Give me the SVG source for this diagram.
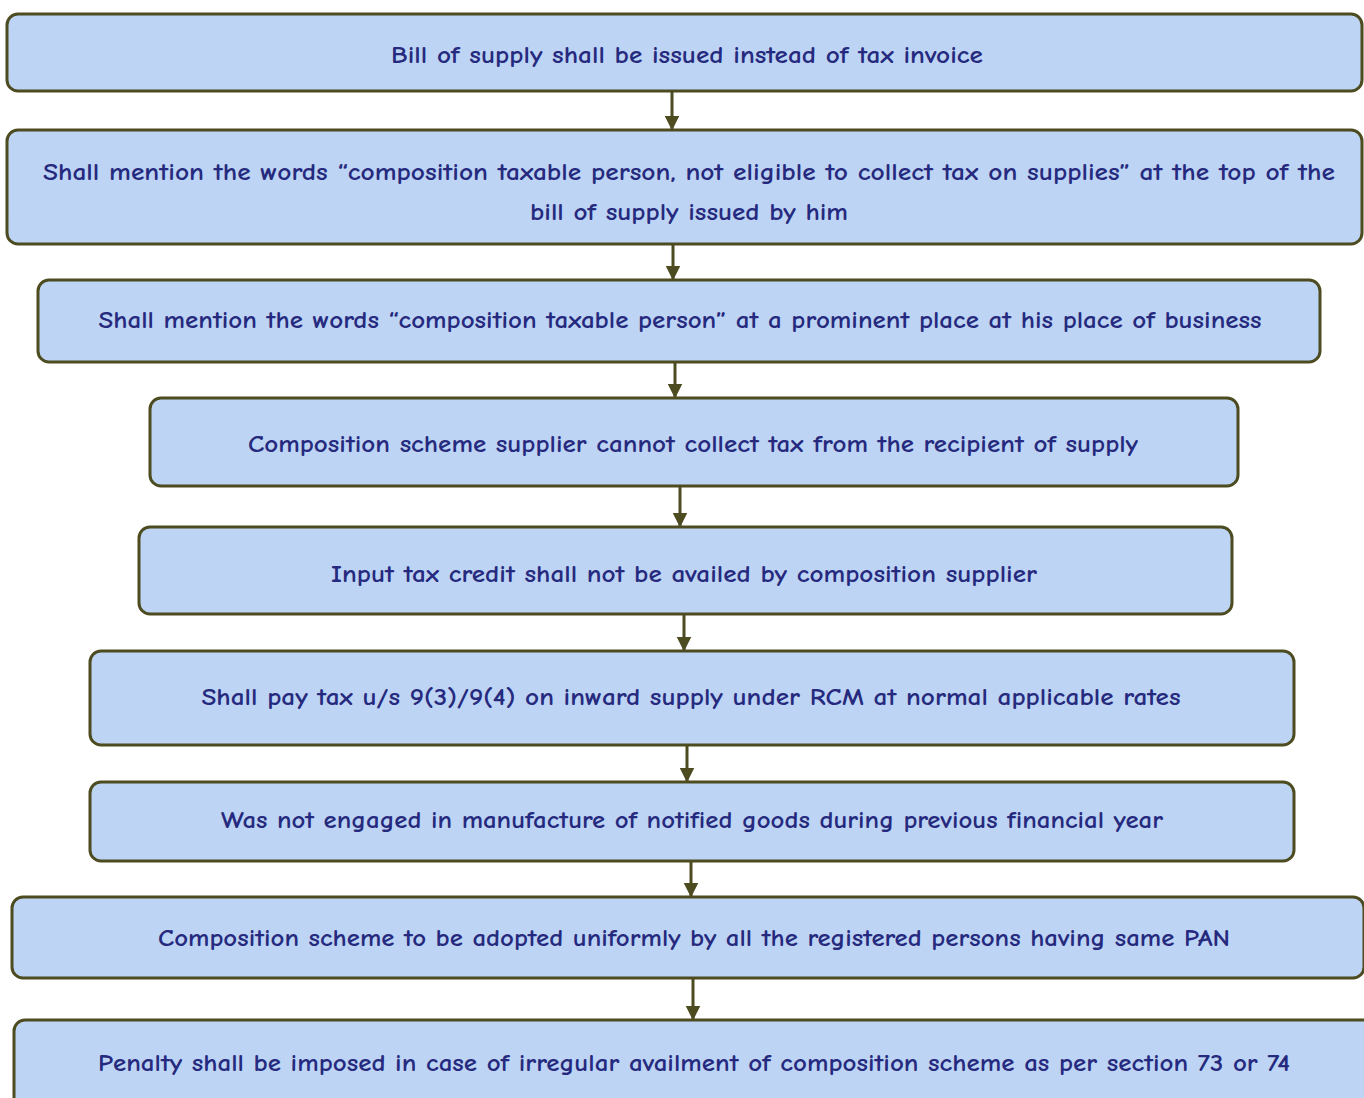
<svg xmlns="http://www.w3.org/2000/svg" width="1364" height="1098" viewBox="0 0 1364 1098">
  <defs>
    <marker id="head" viewBox="0 0 10 10" refX="9" refY="5" markerWidth="5" markerHeight="5.5" markerUnits="strokeWidth" orient="auto">
      <path d="M0,0 L10,5 L0,10 z" fill="#4d4b20"/>
    </marker>
    <style>
      .box { fill: #bdd4f4; stroke: #4d4b20; stroke-width: 3; }
      .lbl { font-family: "Comic Neue", "Open Sans", "Liberation Sans", sans-serif; font-size: 25px; font-weight: 700; fill: #262a7e; text-anchor: middle; }
      .arrow { stroke: #4d4b20; stroke-width: 3; fill: none; marker-end: url(#head); }
    </style>
  </defs>
  <rect width="1364" height="1098" fill="#ffffff"/>

  <g id="connectors">
    <line class="arrow" x1="672" y1="92" x2="672" y2="129"/>
    <line class="arrow" x1="673" y1="245" x2="673" y2="279"/>
    <line class="arrow" x1="675" y1="363" x2="675" y2="397"/>
    <line class="arrow" x1="680" y1="487" x2="680" y2="526"/>
    <line class="arrow" x1="684" y1="615" x2="684" y2="650"/>
    <line class="arrow" x1="687" y1="746" x2="687" y2="781"/>
    <line class="arrow" x1="691" y1="862" x2="691" y2="896"/>
    <line class="arrow" x1="693" y1="979" x2="693" y2="1019"/>
  </g>

  <g id="n1">
    <rect class="box" x="7" y="14" width="1355" height="77" rx="11"/>
    <text class="lbl" x="687" y="63" textLength="592" lengthAdjust="spacingAndGlyphs">Bill of supply shall be issued instead of tax invoice</text>
  </g>
  <g id="n2">
    <rect class="box" x="7" y="130" width="1355" height="114" rx="11"/>
    <text class="lbl" x="689" y="180" textLength="1292" lengthAdjust="spacingAndGlyphs">Shall mention the words “composition taxable person, not eligible to collect tax on supplies” at the top of the</text>
    <text class="lbl" x="689" y="220" textLength="318" lengthAdjust="spacingAndGlyphs">bill of supply issued by him</text>
  </g>
  <g id="n3">
    <rect class="box" x="38" y="280" width="1282" height="82" rx="11"/>
    <text class="lbl" x="680" y="328" textLength="1163" lengthAdjust="spacingAndGlyphs">Shall mention the words “composition taxable person” at a prominent place at his place of business</text>
  </g>
  <g id="n4">
    <rect class="box" x="150" y="398" width="1088" height="88" rx="11"/>
    <text class="lbl" x="693" y="452" textLength="890" lengthAdjust="spacingAndGlyphs">Composition scheme supplier cannot collect tax from the recipient of supply</text>
  </g>
  <g id="n5">
    <rect class="box" x="139" y="527" width="1093" height="87" rx="11"/>
    <text class="lbl" x="684" y="582" textLength="706" lengthAdjust="spacingAndGlyphs">Input tax credit shall not be availed by composition supplier</text>
  </g>
  <g id="n6">
    <rect class="box" x="90" y="651" width="1204" height="94" rx="11"/>
    <text class="lbl" x="691" y="705" textLength="979" lengthAdjust="spacingAndGlyphs">Shall pay tax u/s 9(3)/9(4) on inward supply under RCM at normal applicable rates</text>
  </g>
  <g id="n7">
    <rect class="box" x="90" y="782" width="1204" height="79" rx="11"/>
    <text class="lbl" x="692" y="828" textLength="942" lengthAdjust="spacingAndGlyphs">Was not engaged in manufacture of notified goods during previous financial year</text>
  </g>
  <g id="n8">
    <rect class="box" x="12" y="897" width="1352" height="81" rx="11"/>
    <text class="lbl" x="694" y="946" textLength="1072" lengthAdjust="spacingAndGlyphs">Composition scheme to be adopted uniformly by all the registered persons having same PAN</text>
  </g>
  <g id="n9">
    <rect class="box" x="14" y="1020" width="1360" height="100" rx="11"/>
    <text class="lbl" x="694" y="1071" textLength="1192" lengthAdjust="spacingAndGlyphs">Penalty shall be imposed in case of irregular availment of composition scheme as per section 73 or 74</text>
  </g>
</svg>
